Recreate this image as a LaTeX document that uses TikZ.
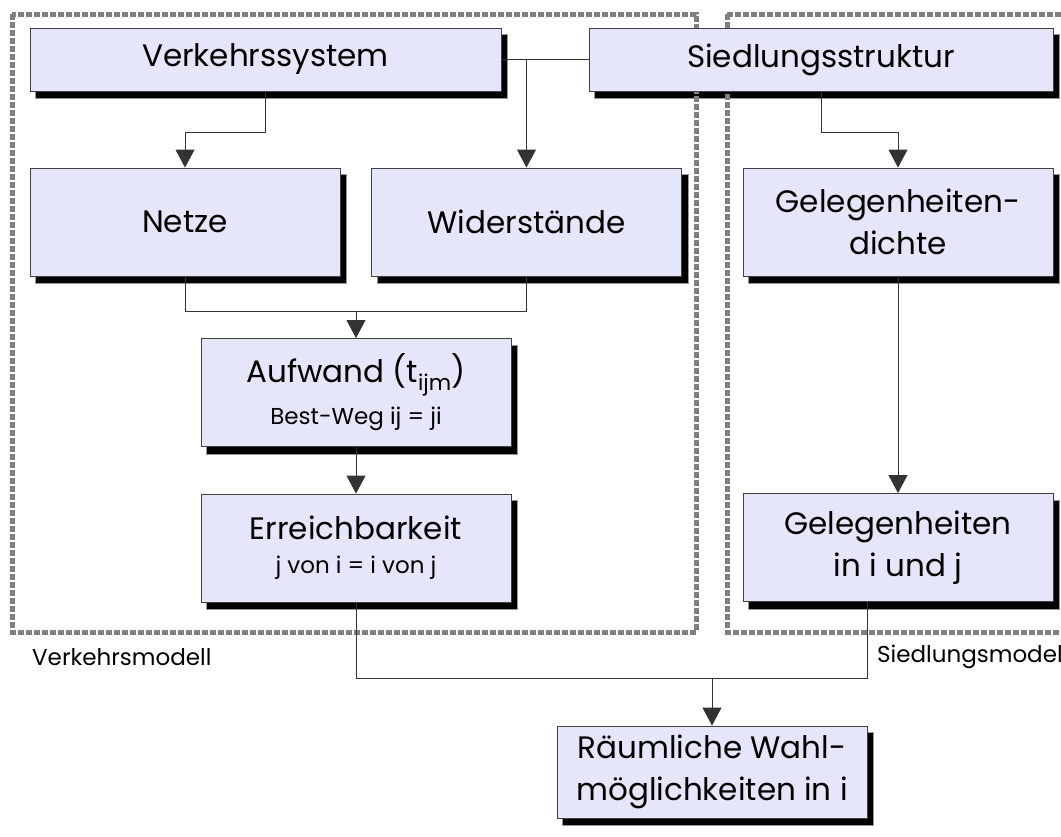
\documentclass[tikz,border=0pt]{standalone}
\usepackage{fontspec}
\setmainfont{Poppins}
\usetikzlibrary{arrows.meta, backgrounds}
\definecolor{boxfill}{RGB}{230,230,250}
\colorlet{framecol}{black!50}
\colorlet{linecol}{black!80}
\def\boxw{310pt}
\newcommand\smalltxt{\fontsize{23}{28}\selectfont}

\begin{document}
\begin{tikzpicture}[x=1pt, y=-1pt,
  box/.style={draw=black!75, line width=0.9pt, fill=boxfill, align=center,
    minimum width=\boxw, minimum height=108pt, inner sep=0pt,
    font=\fontsize{31}{42}\selectfont},
  topbox/.style={box, minimum height=63pt},
  boxshadow/.style={fill=black, draw=black!40, line width=0.8pt},
  conn/.style={draw=linecol, line width=0.9pt},
  arr/.style={conn, -{Triangle[width=19pt, length=18pt]}},
  modframe/.style={draw=framecol, line width=5pt, dash pattern=on 6pt off 2pt},
  lab/.style={font=\fontsize{23}{28}\selectfont, anchor=west, inner sep=0pt}]
  \useasboundingbox (0,0) rectangle (1061,836);

  % model frames
  \draw[modframe] (12,14) rectangle (696,632);
  \draw[modframe] (727,14) rectangle (1080,632);
  \node[lab] (vmod) at (32,657) {Verkehrsmodell};
  \node[lab] (smod) at (877,657) {Siedlungsmodell};

  % boxes
  \node[topbox, minimum width=471pt] (vsys) at (265.5,59.5) {Verkehrssystem};
  \node[topbox, minimum width=464pt] (sstr) at (821,59.5) {Siedlungsstruktur};
  \node[box] (netze) at (185,222) {Netze};
  \node[box] (wider) at (526.5,222) {Widerstände};
  \node[box] (gdichte) at (898,222) {Gelegenheiten-\\dichte};
  \node[box] (aufw) at (356,392.5) {Aufwand (t\textsubscript{ijm})\\[0pt]{\smalltxt Best-Weg ij = ji}};
  \node[box] (erreich) at (356,548) {Erreichbarkeit\\[-8pt]{\smalltxt j von i = i von j}};
  \node[box] (gij) at (898,547.5) {Gelegenheiten\\in i und j};
  \node[box, minimum height=92pt] (raum) at (712,772) {Räumliche Wahl-\\möglichkeiten in i};

  % shadows behind the boxes
  \begin{pgfonlayer}{background}
    \foreach \n in {vsys,sstr,netze,wider,gdichte,aufw,erreich,gij,raum}
      \draw[boxshadow] ([xshift=6pt,yshift=-7pt]\n.south west) rectangle ([xshift=6pt,yshift=-7pt]\n.north east);
  \end{pgfonlayer}

  % connectors
  \draw[conn] (vsys.east) -- (sstr.west);
  \draw[arr] (wider.north |- vsys.east) -- (wider.north);
  \draw[arr] (vsys.south) -- ++(0,41) -| (netze.north);
  \draw[arr] (sstr.south) -- ++(0,41) -| (gdichte.north);
  \draw[conn] (netze.south) -- ++(0,35) -| (wider.south);
  \coordinate (merge) at (aufw.north |- 0,311);
  \draw[arr] (merge) -- (aufw.north);
  \draw[arr] (aufw.south) -- (erreich.north);
  \draw[arr] (gdichte.south) -- (gij.north);
  \coordinate (gfoot) at ([xshift=-31pt]gij.south);
  \draw[conn] (erreich.south) -- ++(0,76) -| (gfoot);
  \draw[arr] (raum.north |- 0,678) -- (raum.north);
\end{tikzpicture}
\end{document}
